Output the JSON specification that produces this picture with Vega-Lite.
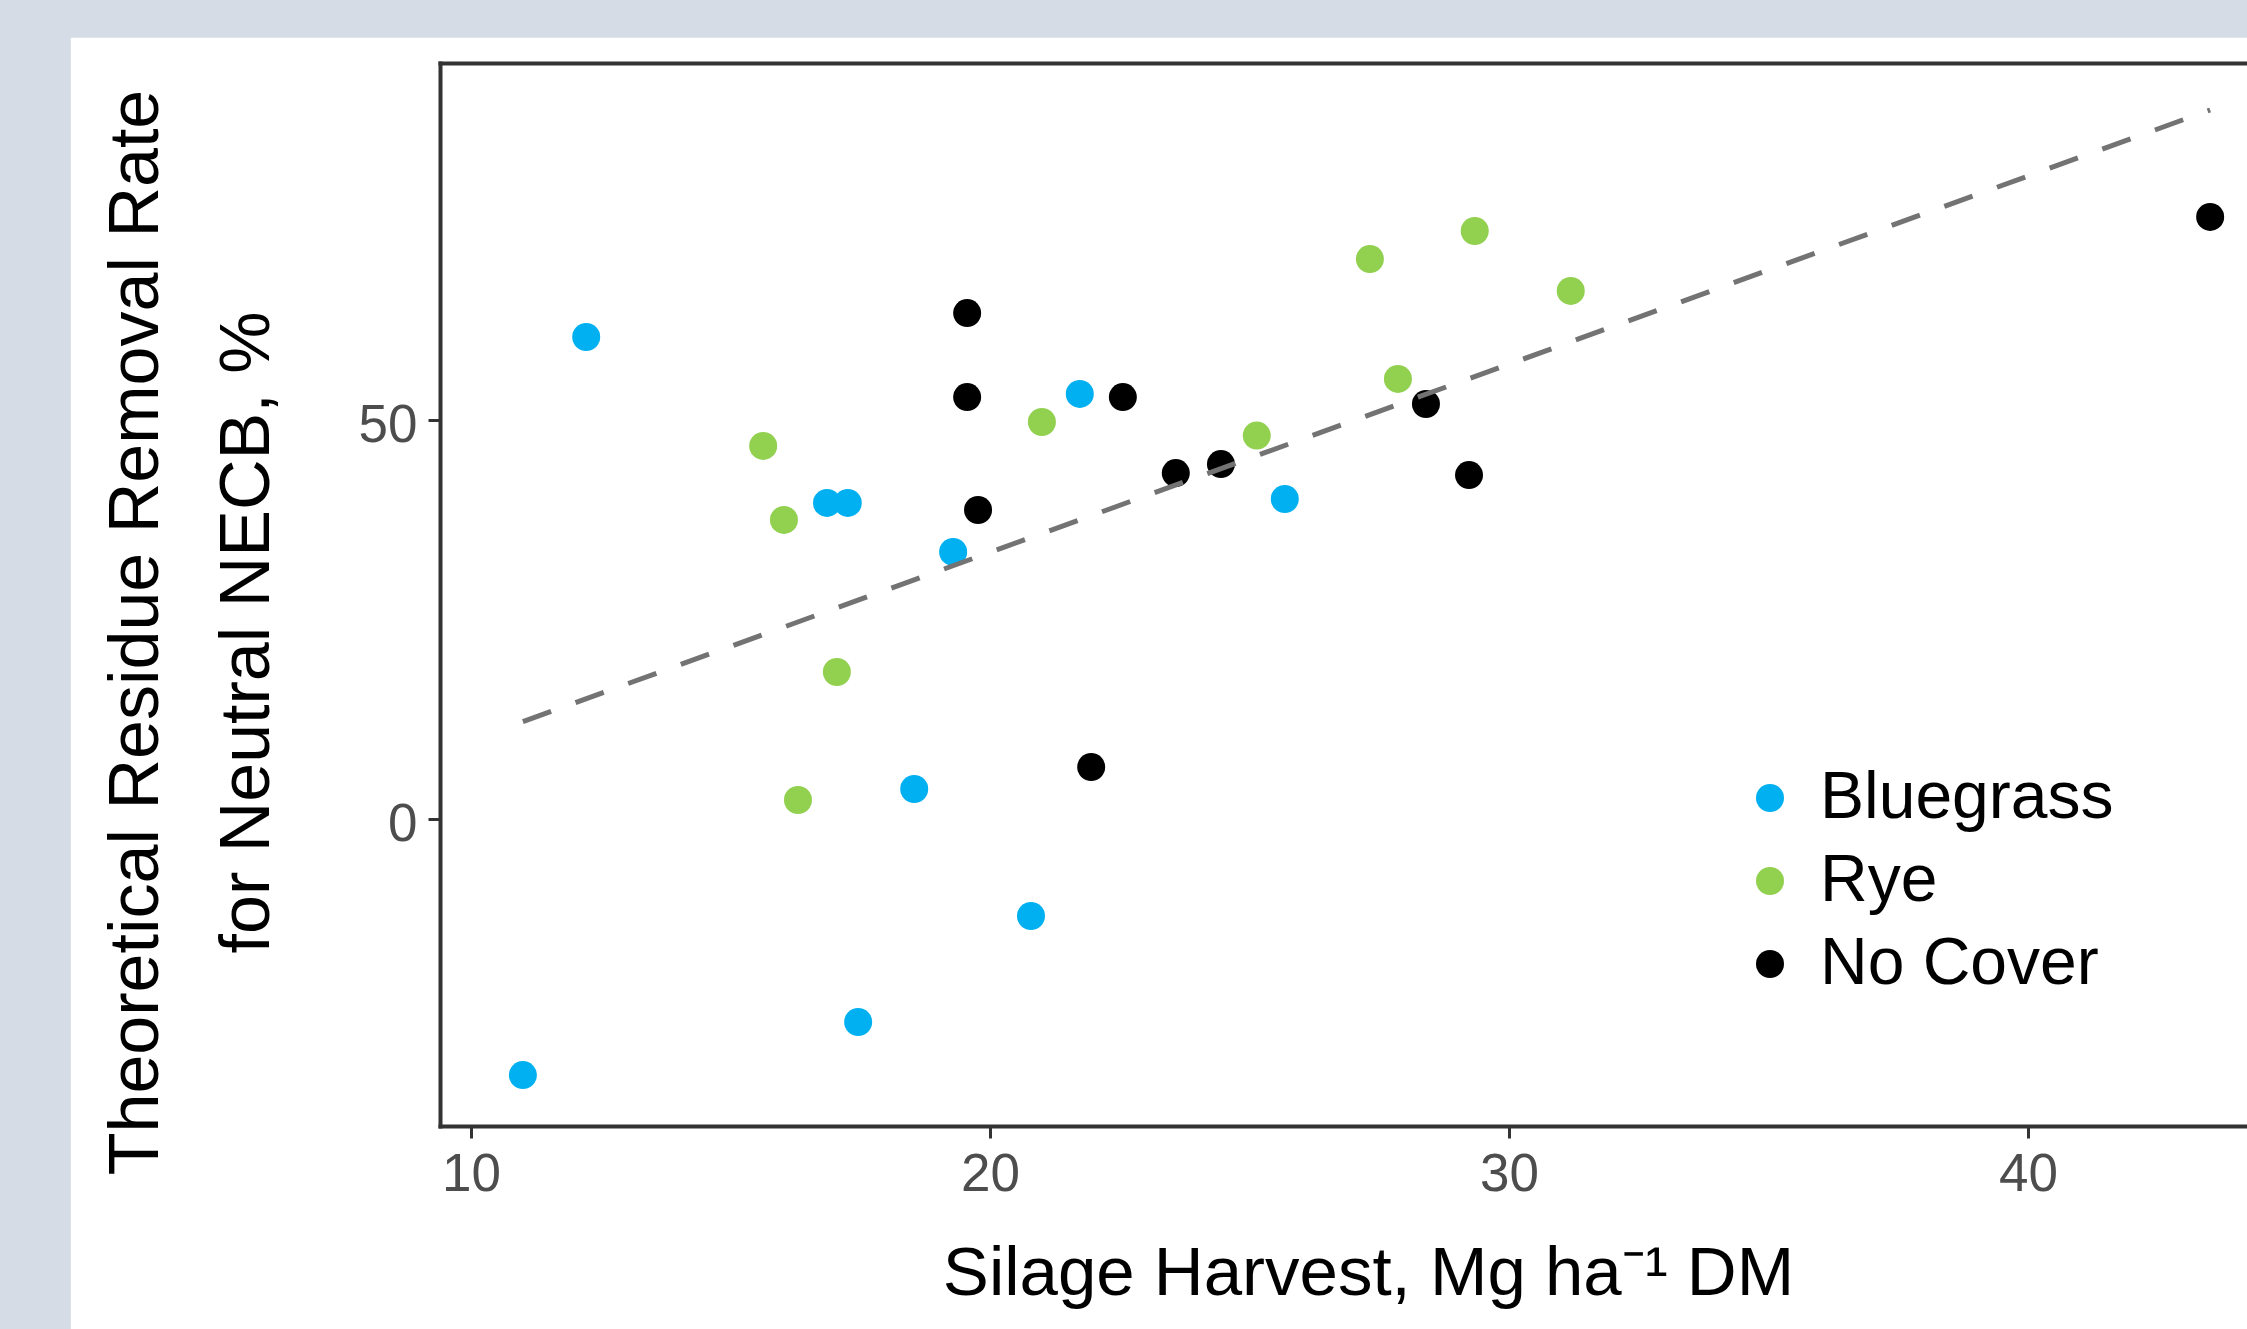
{
  "$schema": "https://vega.github.io/schema/vega-lite/v6.json",
  "width": 1807,
  "height": 1063,
  "autosize": {"type": "none"},
  "padding": {"left": 440, "top": 63, "right": 0, "bottom": 203},
  "background": "#d6dce5",
  "config": {"view": {"stroke": null}, "font": "Liberation Sans", "axis": {"grid": false}},
  "datasets": {
    "points": [
      {"harvest": 12.22, "rate": 60.38, "cover": "Bluegrass"},
      {"harvest": 16.86, "rate": 39.57, "cover": "Bluegrass"},
      {"harvest": 17.26, "rate": 39.57, "cover": "Bluegrass"},
      {"harvest": 19.29, "rate": 33.43, "cover": "Bluegrass"},
      {"harvest": 18.54, "rate": 3.71, "cover": "Bluegrass"},
      {"harvest": 17.46, "rate": -25.5, "cover": "Bluegrass"},
      {"harvest": 11.0, "rate": -32.15, "cover": "Bluegrass"},
      {"harvest": 21.73, "rate": 53.24, "cover": "Bluegrass"},
      {"harvest": 25.68, "rate": 40.07, "cover": "Bluegrass"},
      {"harvest": 20.79, "rate": -12.21, "cover": "Bluegrass"},
      {"harvest": 15.63, "rate": 46.72, "cover": "Rye"},
      {"harvest": 16.03, "rate": 37.44, "cover": "Rye"},
      {"harvest": 17.05, "rate": 18.38, "cover": "Rye"},
      {"harvest": 16.3, "rate": 2.33, "cover": "Rye"},
      {"harvest": 27.32, "rate": 70.16, "cover": "Rye"},
      {"harvest": 21.0, "rate": 49.72, "cover": "Rye"},
      {"harvest": 27.86, "rate": 55.12, "cover": "Rye"},
      {"harvest": 25.14, "rate": 48.02, "cover": "Rye"},
      {"harvest": 31.19, "rate": 66.15, "cover": "Rye"},
      {"harvest": 29.34, "rate": 73.67, "cover": "Rye"},
      {"harvest": 19.56, "rate": 63.38, "cover": "No Cover"},
      {"harvest": 19.56, "rate": 52.85, "cover": "No Cover"},
      {"harvest": 19.77, "rate": 38.69, "cover": "No Cover"},
      {"harvest": 22.56, "rate": 52.85, "cover": "No Cover"},
      {"harvest": 28.4, "rate": 51.98, "cover": "No Cover"},
      {"harvest": 24.45, "rate": 44.45, "cover": "No Cover"},
      {"harvest": 23.58, "rate": 43.32, "cover": "No Cover"},
      {"harvest": 29.23, "rate": 43.07, "cover": "No Cover"},
      {"harvest": 21.95, "rate": 6.47, "cover": "No Cover"},
      {"harvest": 43.51, "rate": 75.43, "cover": "No Cover"}
    ],
    "fit": [
      {"harvest": 11.0, "rate": 12.15},
      {"harvest": 43.51, "rate": 88.84}
    ]
  },
  "layer": [
    {
      "data": {"values": [{}]},
      "mark": {"type": "rect", "color": "white", "clip": false},
      "encoding": {
        "x": {"datum": 2.29, "type": "quantitative",
              "scale": {"domain": [9.403, 44.22], "nice": false, "zero": false},
              "axis": {"orient": "top", "labels": false, "ticks": false, "title": null,
                       "domainColor": "#333333", "domainWidth": 4, "domainCap": "square", "zindex": 1}},
        "x2": {"datum": 60},
        "y": {"datum": 97.9, "type": "quantitative",
              "scale": {"domain": [-38.54, 94.73], "nice": false, "zero": false},
              "axis": {"values": [0, 50],
                       "title": ["Theoretical Residue Removal Rate", "for Neutral NECB, %"],
                       "titleFontSize": 70, "titleLineHeight": 111, "titleFontWeight": "normal", "titleColor": "black",
                       "titleAngle": 270, "titleX": -283, "titleY": 569, "titleAlign": "center", "titleBaseline": "alphabetic",
                       "labelFontSize": 53, "labelColor": "#4d4d4d", "labelPadding": 11, "labelOffset": 6,
                       "labelFlush": false, "labelOverlap": false,
                       "tickSize": 12, "tickWidth": 3, "tickColor": "#333333",
                       "domainColor": "#333333", "domainWidth": 4, "domainCap": "square", "zindex": 1}},
        "y2": {"datum": -80}
      }
    },
    {
      "data": {"name": "points"},
      "mark": {"type": "circle", "size": 784, "opacity": 1},
      "encoding": {
        "x": {"field": "harvest", "type": "quantitative",
              "scale": {"domain": [9.403, 44.22], "nice": false, "zero": false},
              "axis": {"orient": "bottom", "values": [10, 20, 30, 40],
                       "title": "Silage Harvest, Mg ha⁻¹ DM",
                       "titleFontSize": 69, "titleFontWeight": "normal", "titleColor": "black",
                       "titleX": 928, "titleY": 168, "titleAlign": "center", "titleBaseline": "alphabetic",
                       "labelFontSize": 53, "labelColor": "#4d4d4d", "labelPadding": 10,
                       "labelFlush": false, "labelOverlap": false,
                       "tickSize": 12, "tickWidth": 3, "tickColor": "#333333",
                       "domainColor": "#333333", "domainWidth": 4, "domainCap": "square", "zindex": 1}},
        "y": {"field": "rate", "type": "quantitative",
              "scale": {"domain": [-38.54, 94.73], "nice": false, "zero": false},
              "axis": {"values": [0, 50],
                       "title": ["Theoretical Residue Removal Rate", "for Neutral NECB, %"],
                       "titleFontSize": 70, "titleLineHeight": 111, "titleFontWeight": "normal", "titleColor": "black",
                       "titleAngle": 270, "titleX": -283, "titleY": 569, "titleAlign": "center", "titleBaseline": "alphabetic",
                       "labelFontSize": 53, "labelColor": "#4d4d4d", "labelPadding": 11, "labelOffset": 6,
                       "labelFlush": false, "labelOverlap": false,
                       "tickSize": 12, "tickWidth": 3, "tickColor": "#333333",
                       "domainColor": "#333333", "domainWidth": 4, "domainCap": "square", "zindex": 1}},
        "color": {"field": "cover", "type": "nominal",
                  "scale": {"domain": ["Bluegrass", "Rye", "No Cover"], "range": ["#00B0F0", "#92D050", "#000000"]},
                  "legend": {"title": null, "orient": "none", "legendX": 1297, "legendY": 702,
                             "symbolSize": 784, "symbolType": "circle", "symbolStrokeWidth": 0,
                             "labelFontSize": 66, "labelFont": "Liberation Sans", "labelColor": "black",
                             "labelOffset": 17, "labelLimit": 1000, "rowPadding": 17, "padding": 0,
                             "encode": {"labels": {"update": {"dy": {"value": 18}}}}}}
      }
    },
    {
      "data": {"name": "fit"},
      "mark": {"type": "line", "color": "#737373", "strokeWidth": 5, "strokeDash": [30, 26]},
      "encoding": {
        "x": {"field": "harvest", "type": "quantitative",
              "scale": {"domain": [9.403, 44.22], "nice": false, "zero": false}, "axis": null},
        "y": {"field": "rate", "type": "quantitative",
              "scale": {"domain": [-38.54, 94.73], "nice": false, "zero": false},
              "axis": {"values": [0, 50],
                       "title": ["Theoretical Residue Removal Rate", "for Neutral NECB, %"],
                       "titleFontSize": 70, "titleLineHeight": 111, "titleFontWeight": "normal", "titleColor": "black",
                       "titleAngle": 270, "titleX": -283, "titleY": 569, "titleAlign": "center", "titleBaseline": "alphabetic",
                       "labelFontSize": 53, "labelColor": "#4d4d4d", "labelPadding": 11, "labelOffset": 6,
                       "labelFlush": false, "labelOverlap": false,
                       "tickSize": 12, "tickWidth": 3, "tickColor": "#333333",
                       "domainColor": "#333333", "domainWidth": 4, "domainCap": "square", "zindex": 1}}
      }
    }
  ],
  "resolve": {"axis": {"x": "independent"}}
}
